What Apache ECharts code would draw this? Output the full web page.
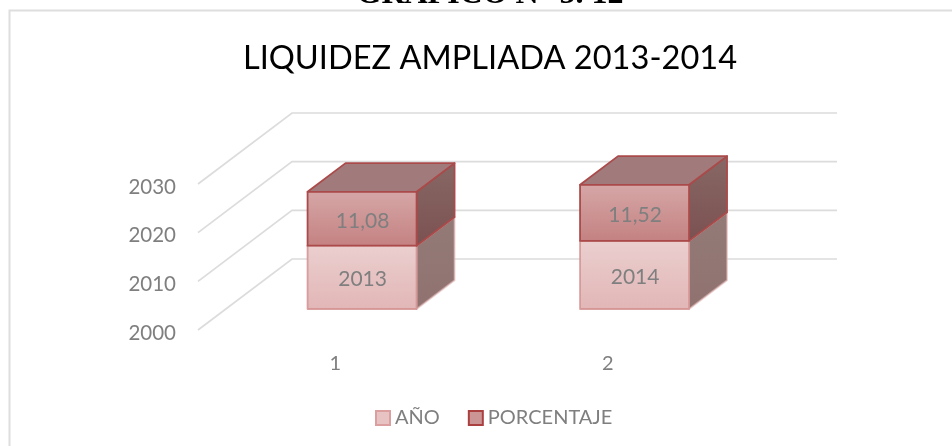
<!DOCTYPE html>
<html><head><meta charset="utf-8">
<style>html,body{margin:0;padding:0;background:#fff}#c{width:952px;height:446px}</style>
<script src="https://cdn.jsdelivr.net/npm/echarts@6/dist/echarts.min.js"></script>
</head><body><div id="c"></div>
<script>
const categories = ['1', '2'];
const anio = [2013, 2014];
const porcentaje = [11.08, 11.52];
const porcentajeLabels = ['11,08', '11,52'];
const yTicks = [2000, 2010, 2020, 2030];
const chartTitle = 'LIQUIDEZ AMPLIADA 2013-2014';
const heading = 'GRÁFICO N° 5. 12';

const WALL = [94, -71], BAR_START = 0.296, BAR_END = 0.70;
const FONT = 'Lato, Carlito, sans-serif';
const grad = (a, b) => new echarts.graphic.LinearGradient(0, 0, 0, 1, [{offset:0,color:a},{offset:1,color:b}]);

const styles = {
  'AÑO': {front: grad('#ebcfcf','#e2b6b6'), side: grad('#937b78','#90726f'), top:'#a89090', border:'rgba(212,145,145,0.85)'},
  'PORCENTAJE': {front: grad('#d6a7a7','#c48181'), side: grad('#876865','#7b5151'), top:'#a17b7b', border:'#ab4a4a'}
};

function gridRender(params, api) {
  const cs = params.coordSys;
  const y = api.coord([0, api.value(0)])[1];
  const x0 = cs.x, x1 = cs.x + cs.width;
  return {type:'polyline', silent:true, shape:{points:[[x0,y],[x0+WALL[0],y+WALL[1]],[x1+WALL[0],y+WALL[1]]]},
    style:{fill:null, stroke:'#dcdcdc', lineWidth:1.7}};
}

function boxRender(name) {
  return function (params, api) {
    const s = styles[name];
    const cat = api.value(0), lo = api.value(1), hi = api.value(2);
    const w = api.size([1, 0])[0] * 0.4;
    const base = api.coord([cat, lo]), top = api.coord([cat, hi]);
    const ox = WALL[0] * BAR_START, oy = WALL[1] * BAR_START;
    const dx = WALL[0] * (BAR_END - BAR_START), dy = WALL[1] * (BAR_END - BAR_START);
    const xl = base[0] - w / 2 + ox, xr = xl + w, yb = base[1] + oy, yt = top[1] + oy;
    const ls = {stroke: s.border, lineWidth: 1.8, lineJoin:'round'};
    return {type:'group', children:[
      {type:'polygon', shape:{points:[[xr,yt],[xr+dx,yt+dy],[xr+dx,yb+dy],[xr,yb]]}, style:Object.assign({fill:s.side}, ls, {stroke:name==='AÑO'?'rgba(225,180,180,0.6)':s.border})},
      {type:'polygon', shape:{points:[[xl,yt],[xl+dx,yt+dy],[xr+dx,yt+dy],[xr,yt]]}, style:Object.assign({fill:s.top}, ls)},
      {type:'rect', shape:{x:xl,y:yt,width:w,height:yb-yt}, style:Object.assign({fill:s.front}, ls)},
      {type:'text', style:{x:(xl+xr)/2+0.5, y:(yt+yb)/2+2, text:String(name==='AÑO'?anio[cat]:porcentajeLabels[cat]),
        fill:'#7f7f7f', font:'21px '+FONT, align:'center', verticalAlign:'middle'}}
    ]};
  };
}

const baseStart = yTicks[0];
const chart = echarts.init(document.getElementById('c'), null, {renderer:'canvas'});
chart.setOption({
  animation:false,
  backgroundColor:'#fff',
  title:{text:chartTitle, left:490, top:42, padding:0, textAlign:'center', textStyle:{fontFamily:FONT, fontWeight:'normal', fontSize:32.6, color:'#000'}},
  legend:{data:['AÑO','PORCENTAJE'], left:375, top:408, padding:0, itemWidth:14, itemHeight:14, itemGap:28, icon:'rect',
    textStyle:{fontFamily:FONT, fontSize:20, color:'#7f7f7f'}},
  grid:{left:198, top:184, width:545, height:146},
  xAxis:{type:'category', data:categories, axisLine:{show:false}, axisTick:{show:false}, splitLine:{show:false},
    axisLabel:{margin:24, fontFamily:FONT, fontSize:20, color:'#7f7f7f', padding:[0,0,0,2]}},
  yAxis:{type:'value', min:yTicks[0], max:yTicks[yTicks.length-1], interval:10, axisLine:{show:false}, axisTick:{show:false}, splitLine:{show:false},
    axisLabel:{margin:22, fontFamily:FONT, fontSize:20.5, color:'#7f7f7f', verticalAlign:'top', lineHeight:6, formatter:v=>String(v)}},
  graphic:[
    {type:'polyline', z:-10, silent:true, shape:{points:[[9.5,446],[9.5,10.5],[952,10.5]]}, style:{fill:null, stroke:'#dedede', lineWidth:2}},
    {type:'text', z:10, silent:true, style:{x:490, y:11, text:heading, fill:'#000', font:'bold 32px "Liberation Serif", serif', align:'center', verticalAlign:'bottom'}}
  ],
  series:[
    {type:'custom', name:'gridlines', silent:true, z:1, renderItem:gridRender, data:yTicks.map(v=>[v]), encode:{y:0}, clip:false},
    {type:'custom', name:'AÑO', z:2, renderItem:boxRender('AÑO'), clip:false,
      itemStyle:{color:'#e7c3c3', borderColor:'#dc9f9f', borderWidth:2},
      data:anio.map((v,i)=>[i, baseStart, v]), encode:{x:0,y:[1,2]}},
    {type:'custom', name:'PORCENTAJE', z:3, renderItem:boxRender('PORCENTAJE'), clip:false,
      itemStyle:{color:'#cc9595', borderColor:'#ab4040', borderWidth:2},
      data:porcentaje.map((v,i)=>[i, anio[i], anio[i]+v]), encode:{x:0,y:[1,2]}}
  ]
});
</script></body></html>
